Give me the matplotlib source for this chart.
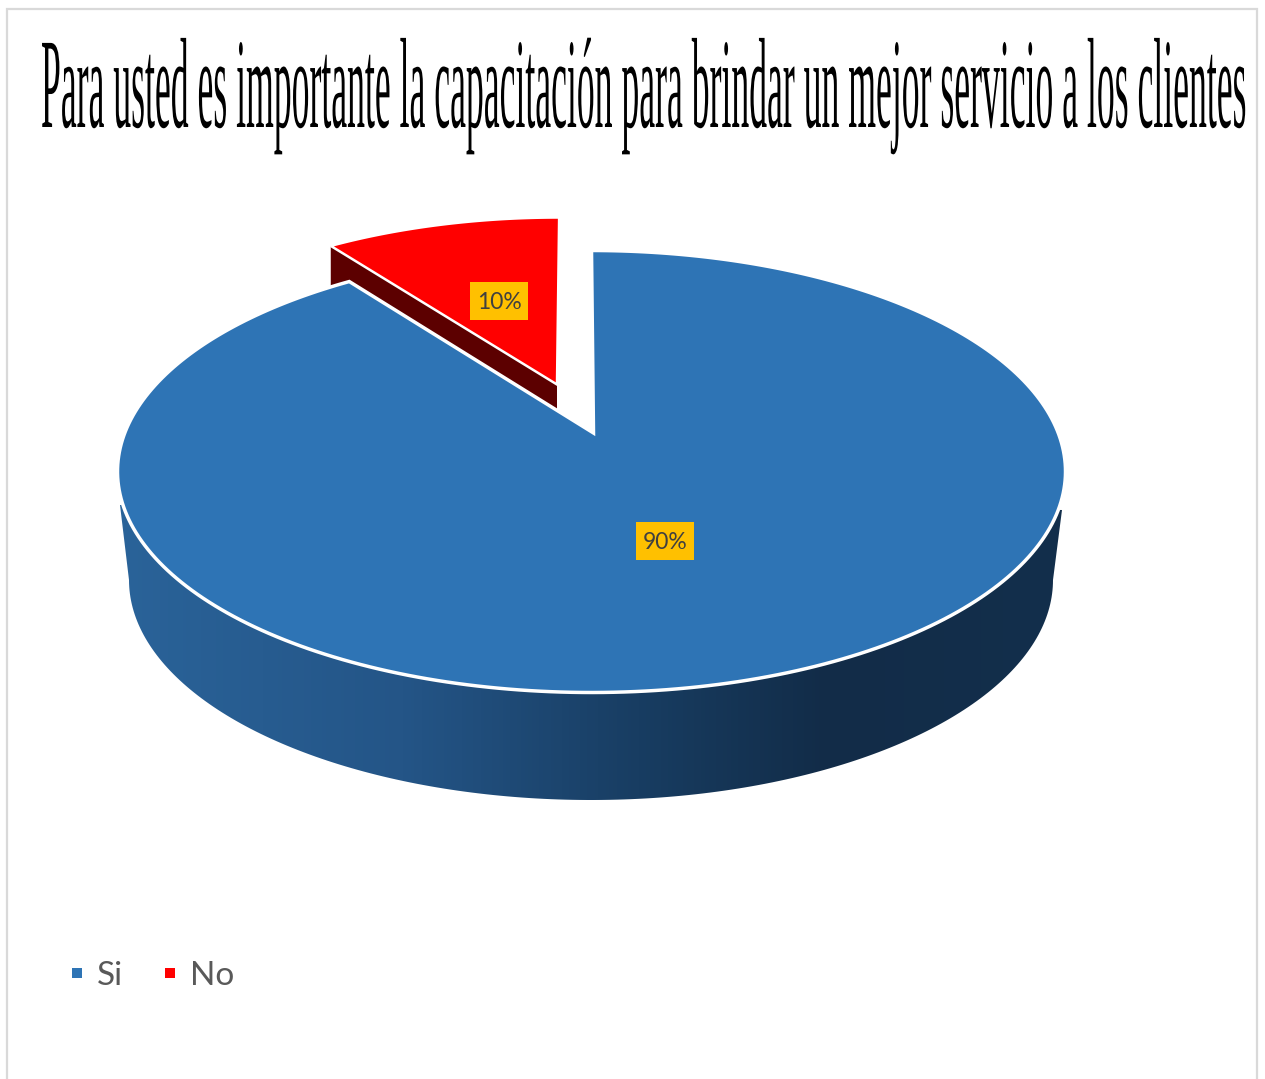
import matplotlib
matplotlib.use('Agg')
import matplotlib.pyplot as plt
import numpy as np
from matplotlib.colors import LinearSegmentedColormap
from matplotlib.lines import Line2D
from matplotlib.patches import Polygon, Rectangle
from matplotlib.patheffects import AbstractPathEffect
from matplotlib.transforms import Affine2D

# Chart data
title = 'Para usted es importante la capacitación para brindar un mejor servicio a los clientes'
categories = ['Si', 'No']
values = [90, 10]
value_labels = ['90%', '10%']
colors = ['#2e74b5', '#ff0000']


class VerticalStretch(AbstractPathEffect):
    """Stretch glyphs vertically about the baseline (condensed tall title)."""

    def __init__(self, factor):
        super().__init__()
        self.factor = factor

    def draw_path(self, renderer, gc, tpath, affine, rgbFace=None):
        renderer.draw_path(gc, tpath, Affine2D().scale(1, self.factor) + affine, rgbFace)


def project(theta, cx=591.5, cy=471.5, a=474.0, b=221.0, k=0.166):
    """Perspective view of the pie disc, theta clockwise from 12 o'clock."""
    x, y = np.sin(theta), np.cos(theta)
    w = 1 + k * y
    return np.column_stack((cx + a * x * np.sqrt(1 - k**2) / w, cy - b * (y + k) / w))


def main():
    fig = plt.figure(figsize=(12.65, 10.79), dpi=100)
    ax = fig.add_axes([0, 0, 1, 1])

    # Outer chart frame
    ax.add_patch(Rectangle((7, 9), 1250, 1100, fc='white', ec='#d9d9d9', lw=1.6, zorder=0))

    # Slice angles come from the shares
    shares = np.cumsum(values) / np.sum(values) * 2 * np.pi
    tip = np.array([593.5, 433.0])
    blue_arc = project(np.linspace(0, shares[0], 300))
    red_arc = project(np.linspace(shares[0], shares[1], 60))

    # Exploded slice: pushed out along its bisector and a bit smaller
    red_tip = np.array([557.0, 384.5])
    offs = red_arc - tip
    red_arc = red_tip + np.column_stack((0.94 * offs[:, 0] - 0.022 * offs[:, 1], 0.915 * offs[:, 1]))

    # Side wall of the exploded slice, the big slice covers most of it
    wall = np.array([red_arc[0], red_tip, red_tip + [0, 100], red_arc[0] + [0, 100]])
    ax.add_patch(Polygon(wall, fc='#5c0000', ec='none', zorder=2))

    # Side wall of the big slice, shaded left to right
    t = np.linspace(np.pi, 2 * np.pi, 200)
    lower = np.column_stack((591 + 462 * np.cos(t), 580 - 220 * np.sin(t)))
    outline = np.vstack(([[120, 505]], lower, [[1062, 510], [591, 500]]))
    wall_patch = Polygon(outline, fc='none', ec='none', zorder=3)
    ax.add_patch(wall_patch)
    cmap = LinearSegmentedColormap.from_list(
        'wall', [(0, '#2a6399'), (0.3, '#245587'), (0.55, '#183d62'), (0.75, '#122c48'), (1, '#132f4c')])
    img = ax.imshow(np.linspace(0, 1, 256).reshape(1, -1), cmap=cmap, aspect='auto',
                    extent=(120, 1062, 800, 500), zorder=3)
    img.set_clip_path(wall_patch)

    # Top faces
    ax.add_patch(Polygon(np.vstack((tip, blue_arc)), fc=colors[0], ec='white', lw=2.5,
                         joinstyle='miter', zorder=4))
    ax.add_patch(Polygon(np.vstack((red_tip, red_arc)), fc=colors[1], ec='white', lw=1.8,
                         joinstyle='miter', zorder=4))

    # Data labels on gold boxes
    for lab, (lx, ly) in zip(value_labels, [(665, 541), (499, 301)]):
        ax.add_patch(Rectangle((lx - 29, ly - 19), 58, 38, fc='#ffc000', ec='none', zorder=5))
        ax.text(lx, ly + 1.5, lab, ha='center', va='center', fontsize=16.5, family='Lato',
                color='#404040', zorder=6)

    # Title: real text fitted to the chart width, then stretched upward
    txt = ax.text(41, 127, title, family='Liberation Serif', fontsize=30, color='black',
                  ha='left', va='baseline', zorder=6)
    width = txt.get_window_extent(fig.canvas.get_renderer()).width
    txt.set_fontsize(30 * 1206 / width)
    txt.set_path_effects([VerticalStretch(3.6)])

    # Legend along the bottom
    handles = [Line2D([0], [0], ls='none', marker='s', markersize=7, mew=0, color=c, label=n)
               for c, n in zip(colors, categories)]
    ax.legend(handles=handles, ncol=2, frameon=False, loc='center left',
              bbox_to_anchor=(67 / 1265, 1 - 976 / 1079),
              labelcolor='#595959', prop={'family': 'Lato', 'size': 24},
              handlelength=0.6, handletextpad=0.3, columnspacing=1.1, borderpad=0, borderaxespad=0)

    ax.set_xlim(0, 1265)
    ax.set_ylim(1079, 0)
    ax.axis('off')

    fig.savefig('out.png', dpi=100, facecolor='white')


if __name__ == "__main__":
    main()
